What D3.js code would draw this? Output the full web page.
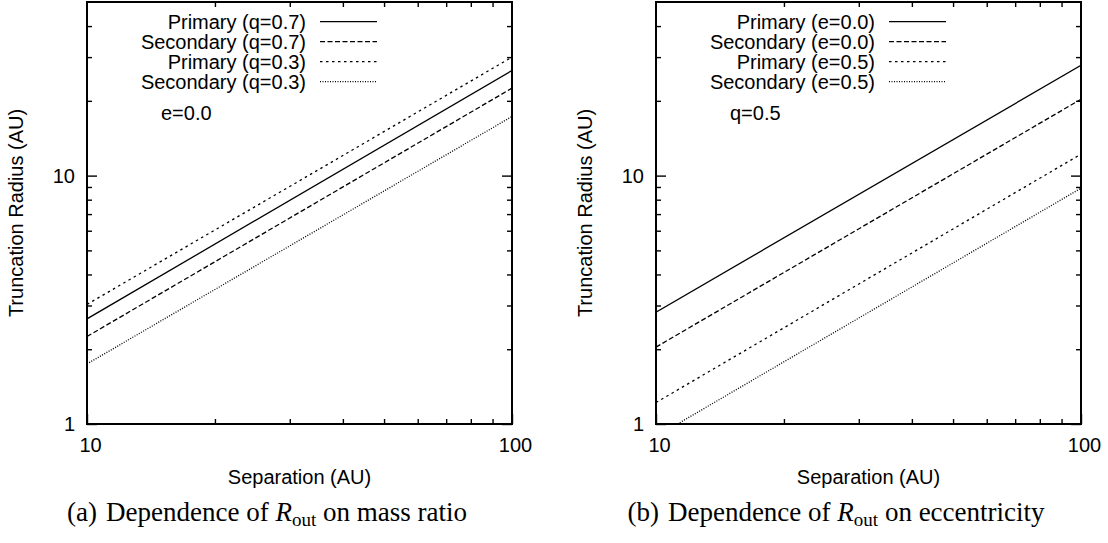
<!DOCTYPE html>
<html>
<head>
<meta charset="utf-8">
<script src="https://cdn.jsdelivr.net/npm/d3@7"></script>
<style>
  body { margin: 0; background: #fff; }
  svg { display: block; }
  .sans { font-family: "Liberation Sans", Arial, Helvetica, sans-serif; }
  .serif { font-family: "Liberation Serif", "Times New Roman", serif; }
</style>
</head>
<body>
<svg id="fig" width="1108" height="543"></svg>
<script>
// separation end points (AU) for each straight line
var sepEnds = [10, 100];

// panel (a): mass ratio
var massLabels = ["Primary (q=0.7)", "Secondary (q=0.7)", "Primary (q=0.3)", "Secondary (q=0.3)"];
var massValues = [[2.65, 26.5], [2.25, 22.5], [3.03, 30.0], [1.745, 17.3]];

// panel (b): eccentricity
var eccLabels = ["Primary (e=0.0)", "Secondary (e=0.0)", "Primary (e=0.5)", "Secondary (e=0.5)"];
var eccValues = [[2.82, 27.8], [2.04, 20.3], [1.22, 12.2], [0.89, 8.9]];

// ticks
var xMajor = [10, 100];
var xMinor = [20, 30, 40, 50, 60, 70, 80, 90];
var yMajor = [1, 10];
var yMinor = [2, 3, 4, 5, 6, 7, 8, 9, 20, 30, 40];

var dashes = [null, "5,2.5", "2.5,3.5", "1,1.5"];

var svg = d3.select("#fig");
svg.append("rect").attr("width", 1108).attr("height", 543).attr("fill", "#fff");

var plotTop = 2, plotBottom = 424, pw = 425;

function panel(left, id, labels, values, note, capTag, capEnd) {
  var x = d3.scaleLog().domain([10, 100]).range([left, left + pw]);
  var y = d3.scaleLog().domain([1, 50]).range([plotBottom, plotTop]);
  var g = svg.append("g");

  g.append("clipPath").attr("id", id).append("rect")
    .attr("x", left).attr("y", plotTop).attr("width", pw).attr("height", plotBottom - plotTop);

  // axes (ticks pointing inward)
  function style(a) {
    a.attr("font-family", null).attr("font-size", null);
    a.select(".domain").remove();
    a.selectAll("line").attr("stroke", "#000").attr("stroke-width", 1.4);
    a.selectAll("text").attr("class", "sans").attr("font-size", 20).attr("fill", "#000");
  }
  g.append("g").attr("transform", "translate(0," + plotBottom + ")")
    .call(d3.axisBottom(x).tickValues(xMajor).tickSize(-10).tickPadding(14).tickFormat(d3.format("d")))
    .call(style).selectAll("text").attr("dx", 3);
  g.append("g").attr("transform", "translate(0," + plotBottom + ")")
    .call(d3.axisBottom(x).tickValues(xMinor).tickSize(-5).tickFormat("")).call(style);
  g.append("g").attr("transform", "translate(0," + plotTop + ")")
    .call(d3.axisTop(x).tickValues(xMinor).tickSize(-5).tickFormat("")).call(style);
  g.append("g").attr("transform", "translate(" + left + ",0)")
    .call(d3.axisLeft(y).tickValues(yMajor).tickSize(-10).tickPadding(12).tickFormat(d3.format("d")))
    .call(style);
  g.append("g").attr("transform", "translate(" + left + ",0)")
    .call(d3.axisLeft(y).tickValues(yMinor).tickSize(-5).tickFormat("")).call(style);
  g.append("g").attr("transform", "translate(" + (left + pw) + ",0)")
    .call(d3.axisRight(y).tickValues(yMajor).tickSize(-10).tickFormat("")).call(style);
  g.append("g").attr("transform", "translate(" + (left + pw) + ",0)")
    .call(d3.axisRight(y).tickValues(yMinor).tickSize(-5).tickFormat("")).call(style);

  // lines
  var line = d3.line().x(function(d) { return x(d[0]); }).y(function(d) { return y(d[1]); });
  values.forEach(function(v, i) {
    g.append("path")
      .attr("clip-path", "url(#" + id + ")")
      .attr("d", line(sepEnds.map(function(s, k) { return [s, v[k]]; })))
      .attr("fill", "none").attr("stroke", "#000").attr("stroke-width", 1.3)
      .attr("stroke-dasharray", dashes[i]);
  });

  // frame
  g.append("rect").attr("x", left).attr("y", plotTop).attr("width", pw).attr("height", plotBottom - plotTop)
    .attr("fill", "none").attr("stroke", "#000").attr("stroke-width", 2);

  // legend
  labels.forEach(function(t, i) {
    var yy = 21.7 + i * 20;
    g.append("text").attr("class", "sans").attr("font-size", 20).attr("text-anchor", "end")
      .attr("x", left + 219).attr("y", yy + 7).text(t);
    g.append("line").attr("x1", left + 233).attr("x2", left + 290).attr("y1", yy).attr("y2", yy)
      .attr("stroke", "#000").attr("stroke-width", 1.3).attr("stroke-dasharray", dashes[i]);
  });
  g.append("text").attr("class", "sans").attr("font-size", 20)
    .attr("x", left + 74).attr("y", 120).text(note);

  // axis titles
  g.append("text").attr("class", "sans").attr("font-size", 20).attr("text-anchor", "middle")
    .attr("x", left + pw / 2).attr("y", 484).text("Separation (AU)");
  g.append("text").attr("class", "sans").attr("font-size", 20).attr("text-anchor", "middle")
    .attr("transform", "translate(" + (left - 64) + "," + ((plotTop + plotBottom) / 2) + ") rotate(-90)")
    .text("Truncation Radius (AU)");

  // caption
  var cap = g.append("text").attr("class", "serif").attr("font-size", 27).attr("text-anchor", "middle")
    .attr("x", left + 180).attr("y", 521);
  cap.append("tspan").text(capTag);
  cap.append("tspan").attr("dx", 9).text("Dependence of ");
  cap.append("tspan").attr("font-style", "italic").text("R");
  cap.append("tspan").attr("font-size", 19).attr("dy", 5).text("out");
  cap.append("tspan").attr("dy", -5).text(" " + capEnd);
}

panel(87, "clipA", massLabels, massValues, "e=0.0", "(a)", "on mass ratio");
panel(656, "clipB", eccLabels, eccValues, "q=0.5", "(b)", "on eccentricity");
</script>
</body>
</html>
